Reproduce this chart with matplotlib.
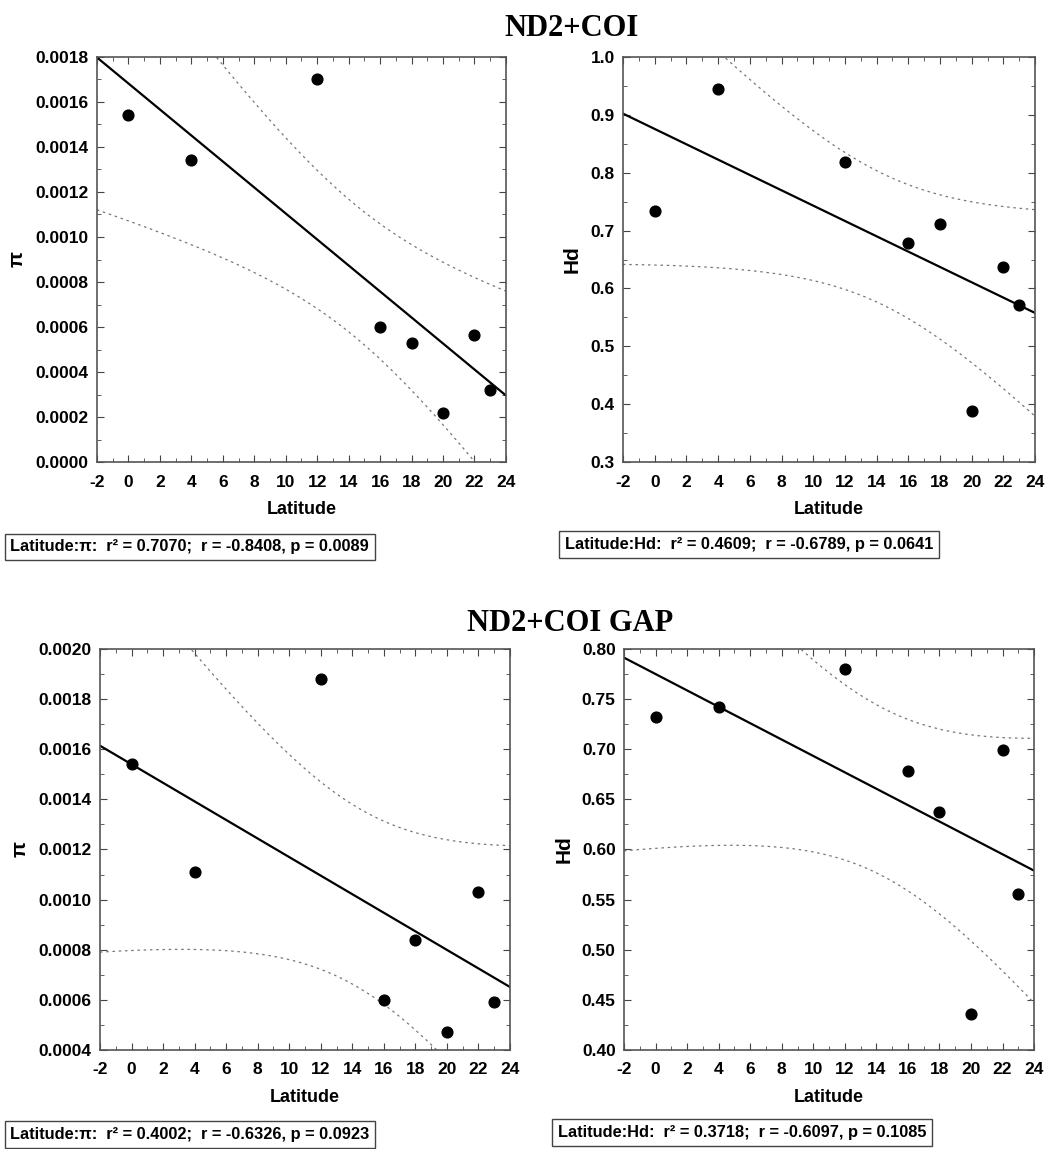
import numpy as np
import matplotlib
matplotlib.use("Agg")
import matplotlib.pyplot as plt
from matplotlib.ticker import MultipleLocator, FormatStrFormatter

plt.rcParams['font.family'] = ['Liberation Sans', 'DejaVu Sans']
plt.rcParams['font.weight'] = 'bold'
plt.rcParams['axes.unicode_minus'] = False

# latitude of the populations
lat = [0, 4, 12, 16, 18, 20, 22, 23]

# ND2+COI
pi_full = [0.00154, 0.00134, 0.00170, 0.00060, 0.00053, 0.00022, 0.000564, 0.00032]
hd_full = [0.733, 0.944, 0.818, 0.678, 0.711, 0.389, 0.637, 0.571]
# ND2+COI GAP
pi_gap = [0.00154, 0.00111, 0.00188, 0.00060, 0.00084, 0.00047, 0.00103, 0.00059]
hd_gap = [0.732, 0.742, 0.780, 0.678, 0.637, 0.436, 0.699, 0.556]

stats = [
    "Latitude:\u03c0:  r\u00b2 = 0.7070;  r = -0.8408, p = 0.0089",
    "Latitude:Hd:  r\u00b2 = 0.4609;  r = -0.6789, p = 0.0641",
    "Latitude:\u03c0:  r\u00b2 = 0.4002;  r = -0.6326, p = 0.0923",
    "Latitude:Hd:  r\u00b2 = 0.3718;  r = -0.6097, p = 0.1085",
]

T_95 = 2.4469  # t(0.975, df=6)


def panel(ax, x, y, ylim, ystep, yfmt, ylabel):
    x = np.asarray(x, float)
    y = np.asarray(y, float)
    n = len(x)
    b, a = np.polyfit(x, y, 1)
    xs = np.linspace(-2, 24, 200)
    yh = a + b * xs
    res = y - (a + b * x)
    s = np.sqrt(np.sum(res ** 2) / (n - 2))
    sxx = np.sum((x - x.mean()) ** 2)
    half = T_95 * s * np.sqrt(1 / n + (xs - x.mean()) ** 2 / sxx)

    ax.plot(xs, yh, color='black', lw=1.6)
    ax.plot(xs, yh + half, color='#777777', lw=0.9, ls=(0, (2, 3)))
    ax.plot(xs, yh - half, color='#777777', lw=0.9, ls=(0, (2, 3)))
    ax.scatter(x, y, s=60, color='black', zorder=3)

    ax.set_xlim(-2, 24)
    ax.set_ylim(*ylim)
    ax.xaxis.set_major_locator(MultipleLocator(2))
    ax.xaxis.set_minor_locator(MultipleLocator(1))
    ax.yaxis.set_major_locator(MultipleLocator(ystep))
    ax.yaxis.set_minor_locator(MultipleLocator(ystep / 2))
    ax.yaxis.set_major_formatter(FormatStrFormatter(yfmt))
    ax.tick_params(which='both', direction='in', top=True, right=True,
                   color='#444444', labelsize=12.5)
    ax.tick_params(which='major', length=5)
    ax.tick_params(which='minor', length=3)
    ax.tick_params(axis='x', pad=9)
    ax.tick_params(axis='y', pad=6)
    for sp in ax.spines.values():
        sp.set_color('#555555')
        sp.set_linewidth(1.2)
    for lab in ax.get_xticklabels() + ax.get_yticklabels():
        lab.set_fontweight('bold')
    ax.set_xlabel('Latitude', fontsize=13, fontweight='bold', labelpad=8)
    ax.set_ylabel(ylabel, fontsize=15, fontweight='bold', labelpad=6)


fig = plt.figure(figsize=(10.46, 11.49), dpi=100)

ax1 = fig.add_axes([0.0927, 0.5979, 0.391, 0.3525])
panel(ax1, lat, pi_full, (0, 0.0018), 0.0002, '%.4f', '\u03c0')
ax2 = fig.add_axes([0.5956, 0.5979, 0.394, 0.3525])
panel(ax2, lat, hd_full, (0.3, 1.0), 0.1, '%.1f', 'Hd')
ax3 = fig.add_axes([0.0956, 0.0862, 0.392, 0.349])
panel(ax3, lat, pi_gap, (0.0004, 0.0020), 0.0002, '%.4f', '\u03c0')
ax4 = fig.add_axes([0.5966, 0.0862, 0.392, 0.349])
panel(ax4, lat, hd_gap, (0.40, 0.80), 0.05, '%.2f', 'Hd')

fig.text(0.546, 0.9756, 'ND2+COI', ha='center', va='center',
         family='Liberation Serif', fontweight='bold', fontsize=22)
fig.text(0.545, 0.457, 'ND2+COI GAP', ha='center', va='center',
         family='Liberation Serif', fontweight='bold', fontsize=22)

box = dict(boxstyle='square,pad=0.35', facecolor='white', edgecolor='#444444', lw=1)
pos = [(0.010, 0.524), (0.540, 0.526), (0.010, 0.0125), (0.533, 0.0145)]
for (bx, by), txt in zip(pos, stats):
    fig.text(bx, by, txt, ha='left', va='center', fontsize=11.8,
             fontweight='bold', bbox=box)

fig.savefig('out.png', dpi=100, facecolor='white')
